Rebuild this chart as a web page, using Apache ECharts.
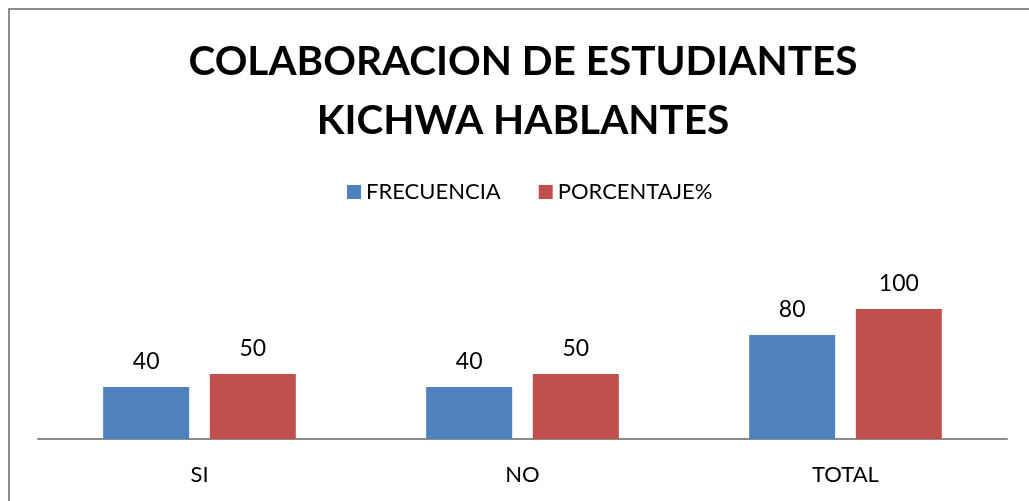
<!DOCTYPE html>
<html>
<head>
<meta charset="utf-8">
<script src="https://cdn.jsdelivr.net/npm/echarts@6/dist/echarts.min.js"></script>
<style>
  html, body { margin: 0; padding: 0; background: #fff; overflow: hidden; }
  #frame { position: absolute; left: 8px; top: 8px; width: 1100px; height: 600px; border: 2px solid #8c8c8c; box-sizing: border-box; }
  #chart { position: absolute; left: 0; top: 0; width: 1029px; height: 501px; }
</style>
</head>
<body>
<div id="frame"></div>
<div id="chart"></div>
<script>
// datos del grafico
var categorias = ['SI', 'NO', 'TOTAL'];
var frecuencia = [40, 40, 80];
var porcentaje = [50, 50, 100];
var nombres = ['FRECUENCIA', 'PORCENTAJE%'];

var chart = echarts.init(document.getElementById('chart'));
var fuente = 'Lato, "Open Sans", sans-serif';

var etiqueta = {
  show: true,
  position: 'top',
  distance: 14,
  color: '#000',
  fontSize: 23,
  fontFamily: fuente
};

var option = {
  animation: false,
  title: {
    text: 'COLABORACION DE ESTUDIANTES\nKICHWA HABLANTES',
    left: 518,
    top: 27,
    textAlign: 'center',
    textStyle: {
      fontFamily: fuente,
      fontWeight: 'bold',
      fontSize: 40.5,
      lineHeight: 59,
      color: '#000'
    }
  },
  legend: {
    top: 176,
    left: 342,
    itemWidth: 14,
    itemHeight: 14,
    itemGap: 38,
    icon: 'rect',
    textStyle: { fontFamily: fuente, fontSize: 22, color: '#000' },
    data: nombres
  },
  grid: { left: 38, right: 22, top: 231, bottom: 62 },
  xAxis: {
    type: 'category',
    data: categorias,
    axisLine: { lineStyle: { color: '#8c8c8c', width: 2 } },
    axisTick: { show: false },
    axisLabel: { margin: 25, fontSize: 22, fontFamily: fuente, color: '#000' }
  },
  yAxis: {
    type: 'value',
    min: 0,
    max: 160,
    show: false,
    splitLine: { show: false }
  },
  series: [
    {
      name: nombres[0],
      type: 'bar',
      data: frecuencia,
      barWidth: 86,
      barGap: '24%',
      itemStyle: { color: '#4f81bd' },
      label: etiqueta
    },
    {
      name: nombres[1],
      type: 'bar',
      data: porcentaje,
      barWidth: 86,
      itemStyle: { color: '#c0504d' },
      label: etiqueta
    }
  ]
};

chart.setOption(option);
</script>
</body>
</html>
